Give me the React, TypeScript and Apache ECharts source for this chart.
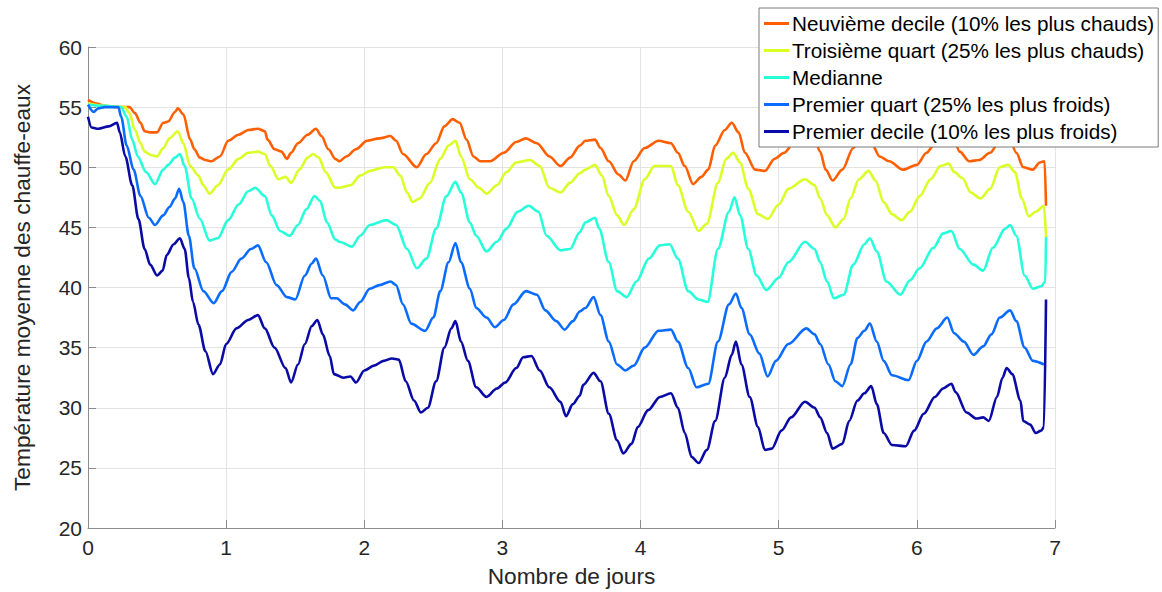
import React, { useEffect, useRef } from "react";
import * as echarts from "echarts";

type Pt = [number, number];

const seriesNames = [
  "Neuvième decile (10% les plus chauds)",
  "Troisième quart (25% les plus chauds)",
  "Medianne",
  "Premier quart (25% les plus froids)",
  "Premier decile (10% les plus froids)",
];

const seriesColors = ["#FF5F00", "#D9FF26", "#26FFD9", "#0A6CFF", "#0A0AA6"];

const neuviemeDecile: Pt[] = [
  [0, 55.6], [0.06, 55.3], [0.12, 55.1], [0.2, 55.0], [0.3, 55.0], [0.34, 54.5], [0.38, 53.7], [0.41, 53.0],
  [0.45, 52.9], [0.5, 52.9], [0.545, 53.7], [0.58, 53.8], [0.63, 54.6], [0.65, 54.9], [0.69, 54.4], [0.74, 52.3],
  [0.77, 51.5], [0.81, 50.8], [0.85, 50.6], [0.895, 50.5], [0.955, 50.9], [1.015, 52.2], [1.09, 52.7], [1.16, 53.1],
  [1.23, 53.2], [1.28, 53.0], [1.3, 52.3], [1.35, 51.5], [1.4, 51.3], [1.44, 50.7], [1.47, 51.2], [1.52, 52.0],
  [1.59, 52.7], [1.65, 53.2], [1.69, 52.6], [1.74, 51.5], [1.79, 50.7], [1.82, 50.5], [1.87, 50.9], [1.94, 51.5],
  [2.02, 52.2], [2.11, 52.4], [2.19, 52.6], [2.23, 52.2], [2.28, 51.1], [2.38, 50.0], [2.45, 51.1], [2.52, 52.0],
  [2.58, 53.4], [2.64, 54.0], [2.69, 53.7], [2.74, 52.3], [2.79, 50.9], [2.84, 50.5], [2.91, 50.5], [3.01, 51.2],
  [3.1, 52.1], [3.17, 52.4], [3.25, 52.0], [3.34, 50.9], [3.42, 50.1], [3.49, 50.8], [3.56, 51.8], [3.6, 52.2],
  [3.67, 52.3], [3.71, 51.6], [3.77, 50.5], [3.84, 49.4], [3.89, 48.9], [3.95, 50.5], [4.03, 51.6], [4.13, 52.2],
  [4.22, 52.0], [4.27, 51.2], [4.32, 50.1], [4.38, 48.6], [4.44, 49.2], [4.49, 49.8], [4.54, 51.8], [4.61, 53.1],
  [4.66, 53.7], [4.71, 52.9], [4.755, 51.2], [4.83, 49.8], [4.9, 49.7], [4.97, 50.7], [5.04, 51.2], [5.12, 52.2],
  [5.2, 52.8], [5.26, 52.3], [5.3, 51.3], [5.34, 49.8], [5.39, 48.9], [5.46, 49.8], [5.54, 51.6], [5.6, 52.6],
  [5.64, 53.0], [5.68, 51.8], [5.73, 50.9], [5.8, 50.5], [5.9, 49.8], [6.0, 50.2], [6.07, 51.2], [6.12, 51.8],
  [6.2, 52.8], [6.26, 52.6], [6.31, 51.3], [6.38, 50.5], [6.45, 50.6], [6.53, 51.2], [6.6, 52.2], [6.66, 52.8],
  [6.72, 51.2], [6.77, 50.0], [6.84, 49.8], [6.89, 50.4], [6.925, 50.5], [6.935, 46.8],
];

const troisiemeQuart: Pt[] = [
  [0, 55.3], [0.12, 55.1], [0.27, 55.0], [0.3, 54.5], [0.34, 53.1], [0.38, 52.0], [0.41, 51.3], [0.46, 51.0],
  [0.5, 50.9], [0.545, 51.6], [0.59, 52.4], [0.65, 53.0], [0.69, 52.0], [0.74, 50.1], [0.8, 49.3], [0.835, 48.5],
  [0.88, 47.8], [0.94, 48.5], [1.015, 49.8], [1.09, 50.7], [1.16, 51.2], [1.23, 51.3], [1.28, 51.1], [1.32, 50.1],
  [1.38, 49.0], [1.43, 49.2], [1.47, 48.7], [1.53, 49.8], [1.59, 50.8], [1.63, 51.1], [1.67, 50.8], [1.72, 49.6],
  [1.79, 48.3], [1.82, 48.3], [1.9, 48.5], [1.97, 49.3], [2.04, 49.7], [2.15, 50.0], [2.21, 50.0], [2.26, 49.3],
  [2.31, 47.9], [2.35, 47.1], [2.4, 47.4], [2.475, 48.7], [2.55, 50.7], [2.61, 51.8], [2.66, 52.2], [2.7, 50.9],
  [2.765, 49.0], [2.83, 48.3], [2.885, 47.8], [2.96, 48.5], [3.03, 49.6], [3.1, 50.4], [3.2, 50.6], [3.27, 50.1],
  [3.34, 48.3], [3.42, 47.9], [3.49, 48.7], [3.56, 49.5], [3.6, 49.8], [3.67, 50.2], [3.72, 49.3], [3.77, 47.6],
  [3.83, 46.0], [3.88, 45.2], [3.95, 46.5], [4.03, 49.0], [4.1, 50.1], [4.22, 50.1], [4.27, 48.5], [4.345, 46.3],
  [4.42, 44.7], [4.48, 45.3], [4.56, 48.7], [4.62, 50.7], [4.67, 51.2], [4.72, 50.4], [4.78, 48.2], [4.85, 46.1],
  [4.92, 45.7], [5.0, 46.9], [5.07, 48.2], [5.19, 49.0], [5.26, 48.5], [5.3, 47.4], [5.35, 46.0], [5.41, 45.0],
  [5.47, 45.7], [5.52, 47.4], [5.58, 49.0], [5.65, 49.7], [5.7, 48.9], [5.76, 47.1], [5.82, 46.1], [5.89, 45.6],
  [5.95, 46.3], [6.02, 47.6], [6.1, 49.0], [6.17, 50.1], [6.23, 50.3], [6.27, 49.6], [6.33, 49.1], [6.39, 47.9],
  [6.46, 47.4], [6.53, 48.2], [6.6, 50.0], [6.66, 50.2], [6.71, 49.6], [6.76, 47.4], [6.81, 45.9], [6.86, 46.3],
  [6.92, 46.8], [6.935, 44.2],
];

const medianne: Pt[] = [
  [0, 55.2], [0.12, 55.1], [0.24, 55.0], [0.28, 54.2], [0.32, 52.3], [0.36, 50.9], [0.42, 49.6], [0.485, 48.6],
  [0.545, 49.8], [0.58, 50.2], [0.63, 50.8], [0.665, 51.1], [0.7, 50.1], [0.75, 47.4], [0.81, 45.7], [0.88, 43.9],
  [0.94, 44.1], [1.015, 45.6], [1.09, 46.9], [1.16, 48.0], [1.21, 48.3], [1.28, 47.6], [1.33, 46.0], [1.39, 44.7],
  [1.46, 44.3], [1.52, 45.2], [1.58, 46.5], [1.64, 47.6], [1.68, 47.2], [1.73, 45.4], [1.79, 44.0], [1.82, 43.8],
  [1.91, 43.4], [1.97, 44.3], [2.04, 45.2], [2.16, 45.6], [2.23, 45.2], [2.31, 43.2], [2.38, 41.6], [2.45, 42.4],
  [2.52, 44.9], [2.595, 47.6], [2.66, 48.8], [2.7, 47.9], [2.765, 45.4], [2.81, 44.3], [2.885, 43.0], [2.96, 43.8],
  [3.03, 44.9], [3.11, 46.3], [3.19, 46.8], [3.26, 46.3], [3.32, 44.3], [3.42, 43.1], [3.49, 43.2], [3.56, 44.6],
  [3.6, 45.4], [3.67, 45.8], [3.7, 44.9], [3.77, 42.1], [3.83, 39.7], [3.9, 39.2], [3.97, 40.5], [4.06, 42.4],
  [4.14, 43.5], [4.21, 43.6], [4.27, 42.4], [4.345, 39.7], [4.42, 39.0], [4.485, 38.8], [4.56, 43.2], [4.64, 46.3],
  [4.68, 47.5], [4.72, 46.0], [4.78, 43.2], [4.84, 41.0], [4.91, 39.8], [5.0, 40.8], [5.07, 42.1], [5.19, 43.8],
  [5.26, 43.2], [5.3, 42.1], [5.35, 40.5], [5.4, 39.1], [5.47, 39.4], [5.54, 41.9], [5.62, 43.6], [5.66, 44.1],
  [5.71, 43.0], [5.78, 40.5], [5.88, 39.4], [5.95, 40.6], [6.02, 41.6], [6.12, 43.3], [6.19, 44.5], [6.25, 44.7],
  [6.31, 43.2], [6.41, 41.9], [6.48, 41.4], [6.55, 43.3], [6.64, 44.9], [6.675, 45.2], [6.72, 44.3], [6.78, 41.0],
  [6.84, 39.9], [6.9, 40.1], [6.93, 40.5], [6.935, 44.2],
];

const premierQuart: Pt[] = [
  [0, 55.2], [0.04, 54.6], [0.075, 54.9], [0.12, 55.0], [0.22, 55.0], [0.24, 54.2], [0.28, 51.8], [0.33, 49.8],
  [0.38, 47.6], [0.44, 45.8], [0.485, 45.2], [0.545, 46.0], [0.59, 46.7], [0.63, 47.4], [0.66, 48.2], [0.69, 47.1],
  [0.73, 44.3], [0.77, 41.6], [0.835, 39.7], [0.91, 38.7], [0.97, 39.7], [1.04, 41.3], [1.11, 42.4], [1.18, 43.2],
  [1.23, 43.5], [1.29, 42.1], [1.365, 40.2], [1.44, 39.2], [1.5, 39.0], [1.57, 41.0], [1.62, 42.0], [1.65, 42.4],
  [1.7, 41.0], [1.76, 39.1], [1.8, 39.1], [1.86, 38.6], [1.92, 38.1], [1.97, 38.8], [2.04, 39.9], [2.11, 40.2],
  [2.19, 40.5], [2.23, 40.2], [2.28, 38.6], [2.34, 37.0], [2.44, 36.4], [2.5, 37.5], [2.55, 39.7], [2.61, 42.1],
  [2.66, 43.7], [2.7, 42.1], [2.765, 39.9], [2.81, 38.3], [2.885, 37.5], [2.945, 36.7], [3.01, 37.3], [3.08, 38.6],
  [3.17, 39.7], [3.25, 39.4], [3.31, 38.1], [3.39, 37.2], [3.45, 36.5], [3.51, 37.2], [3.56, 38.0], [3.6, 38.3],
  [3.66, 39.2], [3.71, 37.7], [3.77, 35.5], [3.83, 33.6], [3.89, 33.1], [3.95, 33.5], [4.03, 35.0], [4.13, 36.4],
  [4.22, 36.5], [4.27, 35.5], [4.345, 33.3], [4.405, 31.7], [4.49, 32.0], [4.56, 35.5], [4.64, 38.6], [4.69, 39.5],
  [4.73, 38.3], [4.79, 36.1], [4.86, 34.5], [4.92, 32.6], [4.98, 33.9], [5.07, 35.3], [5.2, 36.6], [5.26, 36.1],
  [5.3, 35.3], [5.36, 33.6], [5.41, 32.2], [5.46, 31.8], [5.52, 33.6], [5.57, 35.8], [5.62, 36.4], [5.66, 37.0],
  [5.71, 35.5], [5.76, 33.9], [5.82, 32.7], [5.94, 32.3], [6.0, 33.9], [6.07, 35.5], [6.145, 36.6], [6.22, 37.5],
  [6.27, 36.2], [6.34, 35.5], [6.41, 34.4], [6.48, 35.1], [6.54, 36.1], [6.6, 37.5], [6.675, 38.1], [6.72, 37.2],
  [6.78, 35.0], [6.84, 33.9], [6.92, 33.6],
];

const premierDecile: Pt[] = [
  [0, 54.2], [0.026, 53.3], [0.075, 53.2], [0.15, 53.4], [0.21, 53.7], [0.23, 52.9], [0.27, 50.9], [0.32, 48.5],
  [0.365, 45.7], [0.41, 43.2], [0.45, 41.9], [0.5, 41.0], [0.54, 41.4], [0.57, 42.7], [0.62, 43.6], [0.665, 44.1],
  [0.7, 43.2], [0.73, 40.8], [0.76, 38.8], [0.8, 36.9], [0.85, 34.7], [0.905, 32.8], [0.955, 33.6], [1.0, 35.3],
  [1.075, 36.6], [1.16, 37.3], [1.23, 37.7], [1.28, 36.6], [1.35, 35.0], [1.43, 33.3], [1.47, 32.1], [1.52, 33.6],
  [1.57, 35.3], [1.62, 36.8], [1.66, 37.3], [1.7, 36.1], [1.75, 34.3], [1.78, 32.8], [1.85, 32.5], [1.9, 32.6],
  [1.94, 32.1], [2.0, 33.1], [2.07, 33.5], [2.14, 33.9], [2.2, 34.1], [2.25, 34.0], [2.3, 32.2], [2.36, 30.6],
  [2.41, 29.6], [2.46, 30.0], [2.52, 32.2], [2.58, 35.0], [2.63, 36.6], [2.66, 37.2], [2.7, 35.5], [2.75, 33.9],
  [2.81, 31.7], [2.885, 30.9], [2.96, 31.6], [3.02, 32.1], [3.1, 33.3], [3.15, 34.2], [3.21, 34.3], [3.27, 33.1],
  [3.34, 31.7], [3.42, 30.5], [3.46, 29.3], [3.51, 30.3], [3.56, 31.0], [3.585, 31.9], [3.66, 32.9], [3.71, 32.2],
  [3.77, 29.5], [3.83, 27.3], [3.875, 26.2], [3.935, 27.0], [3.98, 28.4], [4.055, 29.8], [4.14, 30.9], [4.22, 31.2],
  [4.27, 30.0], [4.32, 27.9], [4.37, 25.9], [4.42, 25.4], [4.48, 26.5], [4.54, 28.9], [4.61, 32.5], [4.66, 34.4],
  [4.69, 35.5], [4.73, 33.6], [4.79, 30.9], [4.85, 28.4], [4.9, 26.5], [4.95, 26.6], [5.02, 28.1], [5.09, 29.2],
  [5.19, 30.5], [5.26, 30.0], [5.3, 29.2], [5.35, 27.9], [5.39, 26.6], [5.46, 27.0], [5.51, 28.9], [5.57, 30.6],
  [5.62, 31.2], [5.67, 31.8], [5.71, 30.3], [5.76, 27.9], [5.82, 26.9], [5.92, 26.8], [5.98, 28.1], [6.05, 29.5],
  [6.13, 30.9], [6.19, 31.6], [6.25, 32.0], [6.28, 31.3], [6.36, 29.6], [6.43, 29.1], [6.48, 29.2], [6.52, 28.9],
  [6.58, 30.9], [6.62, 32.5], [6.65, 33.3], [6.69, 32.8], [6.75, 30.6], [6.77, 28.9], [6.82, 28.6], [6.86, 27.9],
  [6.9, 28.1], [6.92, 28.4], [6.935, 39.0],
];

const seriesData: Pt[][] = [neuviemeDecile, troisiemeQuart, medianne, premierQuart, premierDecile];

const xAxisTitle = "Nombre de jours";
const yAxisTitle = "Température moyenne des chauffe-eaux";

const FONT = "'Liberation Sans', Arial, Helvetica, sans-serif";

export default function App() {
  const ref = useRef<HTMLDivElement>(null);

  useEffect(() => {
    document.body.style.margin = "0";
    if (!ref.current) return;
    const chart = echarts.init(ref.current, undefined, { renderer: "svg" });
    const axisLineColor = "#8c8c8c";
    const labelColor = "#262626";
    chart.setOption({
      animation: false,
      backgroundColor: "#ffffff",
      textStyle: { fontFamily: FONT },
      grid: { left: 88, right: 107, top: 47, bottom: 59, containLabel: false },
      legend: {
        orient: "vertical",
        left: 759,
        top: 8,
        padding: [5, 4, 5, 5],
        itemGap: 6,
        itemWidth: 25,
        itemHeight: 3,
        icon: "rect",
        backgroundColor: "#ffffff",
        borderColor: "#7a7a7a",
        borderWidth: 1,
        borderRadius: 0,
        textStyle: { fontFamily: FONT, fontSize: 20.7, color: "#000000", padding: [0, 0, 0, -2] },
        data: seriesNames,
      },
      xAxis: {
        type: "value",
        min: 0,
        max: 7,
        interval: 1,
        name: xAxisTitle,
        nameLocation: "middle",
        nameGap: 36,
        nameTextStyle: { fontFamily: FONT, fontSize: 22.7, color: labelColor },
        axisLine: { show: true, lineStyle: { color: axisLineColor, width: 1 } },
        axisTick: { show: true, inside: true, length: 8, lineStyle: { color: axisLineColor } },
        axisLabel: { fontFamily: FONT, fontSize: 21, color: labelColor, margin: 9 },
        splitLine: { show: true, lineStyle: { color: "#e3e3e3", width: 1 } },
      },
      yAxis: {
        type: "value",
        min: 20,
        max: 60,
        interval: 5,
        name: yAxisTitle,
        nameLocation: "middle",
        nameRotate: 90,
        nameGap: 55,
        nameTextStyle: { fontFamily: FONT, fontSize: 22.7, color: labelColor },
        axisLine: { show: true, lineStyle: { color: axisLineColor, width: 1 } },
        axisTick: { show: true, inside: true, length: 8, lineStyle: { color: axisLineColor } },
        axisLabel: { fontFamily: FONT, fontSize: 21, color: labelColor, margin: 6 },
        splitLine: { show: true, lineStyle: { color: "#e3e3e3", width: 1 } },
      },
      series: seriesNames.map((name, i) => ({
        name,
        type: "line",
        data: seriesData[i],
        symbol: "none",
        showSymbol: false,
        smooth: 0.3,
        smoothMonotone: "x",
        color: seriesColors[i],
        itemStyle: { color: seriesColors[i] },
        lineStyle: { color: seriesColors[i], width: 2.6 },
        emphasis: { disabled: true },
        z: 2 + i,
      })),
    });
    return () => chart.dispose();
  }, []);

  return (
    <div
      ref={ref}
      style={{ position: "fixed", left: 0, top: 0, width: 1162, height: 592 }}
    />
  );
}
